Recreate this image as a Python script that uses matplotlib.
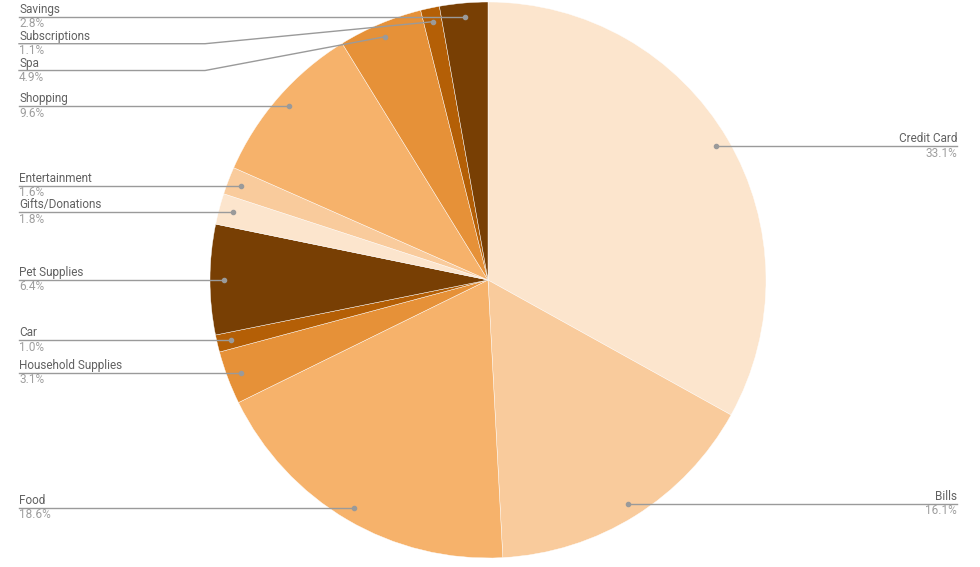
import numpy as np
import matplotlib.pyplot as plt

plt.rcParams['font.family'] = ['Roboto', 'DejaVu Sans']

categories = ['Credit Card', 'Bills', 'Food', 'Household Supplies', 'Car', 'Pet Supplies',
              'Gifts/Donations', 'Entertainment', 'Shopping', 'Spa', 'Subscriptions', 'Savings']
shares = [33.1, 16.1, 18.6, 3.1, 1.0, 6.4, 1.8, 1.6, 9.6, 4.9, 1.1, 2.8]
palette = ['#fce5cd', '#f9cb9c', '#f6b26b', '#e69138', '#b45f06', '#783f04']

W, H = 980, 567
cx, cy, r = 488, H - 280, 278

fig = plt.figure(figsize=(W / 100, H / 100), dpi=100)
ax = fig.add_axes([0, 0, 1, 1])
colors = [palette[i % len(palette)] for i in range(len(shares))]
wedges, _ = ax.pie(shares, colors=colors, startangle=90, counterclock=False,
                   center=(cx, cy), radius=r,
                   wedgeprops=dict(edgecolor='white', linewidth=0.3))
ax.set_xlim(0, W)
ax.set_ylim(0, H)
ax.set_aspect('equal')
ax.axis('off')

# anchor dots at 0.95 r along each slice's mid angle
total = sum(shares)
left, right = [], []
acc = 0
for name, v in zip(categories, shares):
    mid = (acc + v / 2) / total * 2 * np.pi
    acc += v
    px = cx + 0.95 * r * np.sin(mid)
    py = cy + 0.95 * r * np.cos(mid)
    (right if px > cx else left).append((name, v, px, py))

line_c = '#9a9a9a'
name_c = '#616161'
pct_c = '#9e9e9e'
gap = 26.8


def draw_side(items, side):
    items = sorted(items, key=lambda t: -t[3])
    last = None
    for name, v, px, py in items:
        ly = py if last is None else min(py, last - gap)
        last = ly
        if side == 'left':
            xe, ha, bend = 19, 'left', 205
        else:
            xe, ha, bend = 957, 'right', 775
        if abs(ly - py) > 0.5:
            ax.plot([px, bend, xe], [py, ly, ly], color=line_c, lw=1, zorder=3)
        else:
            ax.plot([px, xe], [py, ly], color=line_c, lw=1, zorder=3)
        ax.plot(px, py, 'o', color=line_c, ms=3, zorder=4)
        ax.text(xe, ly + 1, name, ha=ha, va='bottom', fontsize=8.5, color=name_c)
        ax.text(xe, ly - 0.5, f'{v:.1f}%', ha=ha, va='top', fontsize=8.5, color=pct_c)


draw_side(left, 'left')
draw_side(right, 'right')

fig.savefig('out.png', dpi=100)
